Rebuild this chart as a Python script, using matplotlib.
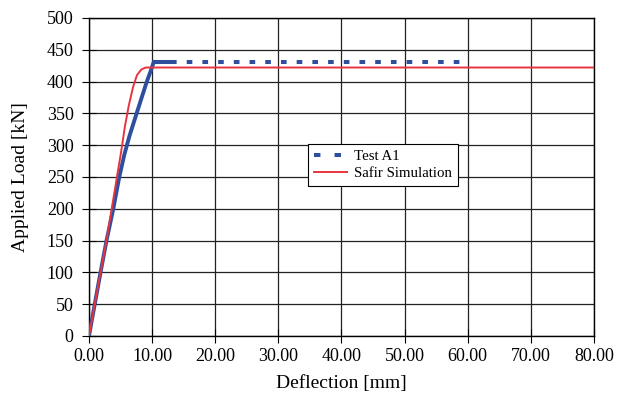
import matplotlib
matplotlib.use("Agg")
import matplotlib.pyplot as plt

plt.rcParams['font.family'] = ['Liberation Serif', 'DejaVu Serif']

# Test A1 (measured)
test_rise_x = [0.0, 0.95, 1.85, 2.8, 3.85, 4.8, 5.6, 6.4, 7.55, 9.1, 9.9, 10.2, 10.3]
test_rise_y = [0, 52, 101, 151, 200, 250, 285, 314, 350, 398, 420, 429, 430]
test_flat_x = [10.3, 13.0, 59.0]
test_flat_y = [430, 430, 430]

# Safir simulation
sim_x = [0.0, 0.95, 1.85, 2.8, 3.6, 4.35, 5.1, 5.7, 6.3, 7.0, 7.6, 8.3, 9.0, 80.0]
sim_y = [0, 52, 101, 151, 200, 245, 290, 330, 362, 392, 410, 419, 422, 422]

fig = plt.figure(figsize=(6.18, 3.98), dpi=100)
ax = fig.add_axes([0.144, 0.156, 0.817, 0.799])

blue = '#2e4f9e'
ax.plot(test_rise_x, test_rise_y, color=blue, lw=2.8, zorder=3)
ax.plot(test_flat_x[:2], test_flat_y[:2], color=blue, lw=2.9, zorder=3)
ax.plot(test_flat_x[1:], test_flat_y[1:], color=blue, lw=2.9,
        linestyle=(0, (1.4, 2.5)), zorder=3)
# legend proxy
ax.plot([], [], color=blue, lw=2.9, linestyle=(0, (1.6, 3.5)), label='Test A1')
ax.plot(sim_x, sim_y, color='#e8343e', lw=1.4, label='Safir Simulation', zorder=4)

ax.set_xlim(0, 80)
ax.set_ylim(0, 500)
ax.set_xticks(range(0, 81, 10))
ax.set_xticklabels([f"{v:.2f}" for v in range(0, 81, 10)])
ax.set_yticks(range(0, 501, 50))
ax.grid(True, color='#222222', lw=0.9)
ax.tick_params(labelsize=13, direction='inout', length=10, color='black')
ax.tick_params(axis='x', pad=4)
ax.tick_params(axis='y', pad=6)
for s in ax.spines.values():
    s.set_color('black')
    s.set_linewidth(1.0)

ax.set_xlabel('Deflection [mm]', fontsize=14, labelpad=7)
ax.set_ylabel('Applied Load [kN]', fontsize=14, labelpad=13)

leg = ax.legend(loc='upper left', bbox_to_anchor=(0.434, 0.604), fontsize=10.7,
                fancybox=False, edgecolor='black', framealpha=1,
                handlelength=2.2, handletextpad=0.5, borderaxespad=0,
                borderpad=0.4, labelspacing=0.25)
leg.get_frame().set_linewidth(0.8)

fig.savefig('out.png', dpi=100)
